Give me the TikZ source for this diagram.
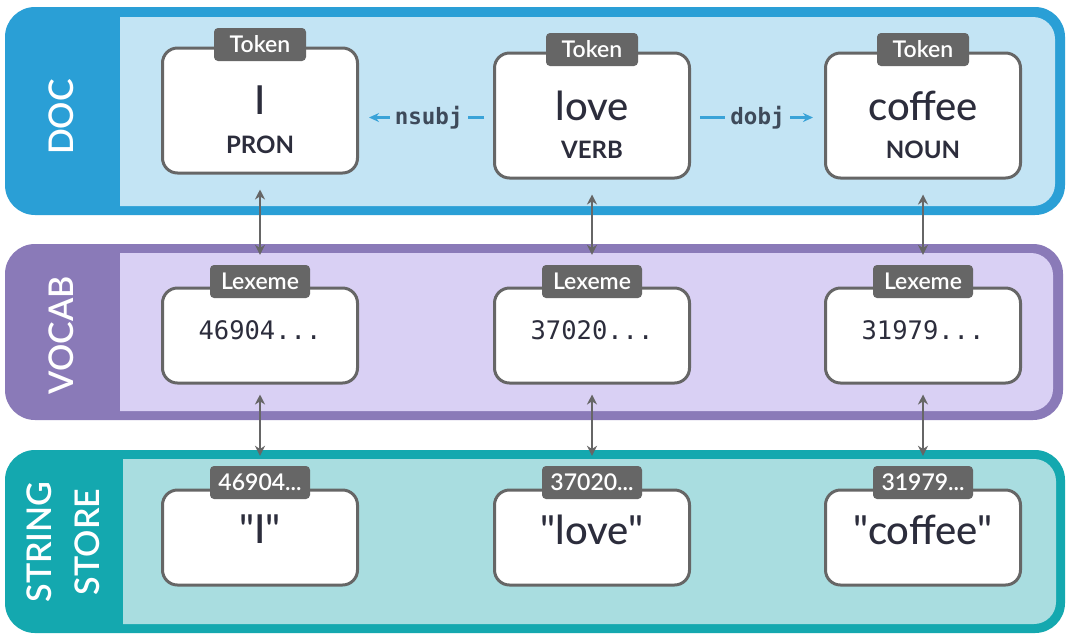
\documentclass[tikz,border=0pt]{standalone}
\usepackage{fontspec}
\setmainfont{Lato}
\IfFontExistsTF{Lato Semibold}{\newfontfamily\semib{Lato Semibold}}{\newfontfamily\semib{Lato}[FakeBold=1.5]}
\IfFontExistsTF{Lato Medium}{\newfontfamily\medf{Lato Medium}}{\newfontfamily\medf{Lato}[FakeBold=0.8]}
\newfontfamily\monof{DejaVu Sans Mono}
\usetikzlibrary{arrows.meta}
\definecolor{docband}{HTML}{2A9FD6}
\definecolor{docpanel}{HTML}{C3E4F4}
\definecolor{vocband}{HTML}{8A7AB8}
\definecolor{vocpanel}{HTML}{D9D0F4}
\definecolor{strband}{HTML}{14A8AF}
\definecolor{strpanel}{HTML}{A9DDE0}
\definecolor{boxgray}{HTML}{666666}
\definecolor{ink}{HTML}{2C2D3C}
\definecolor{relblue}{HTML}{3AA3D8}
\definecolor{relink}{HTML}{3E4A5A}
\newcommand\tdots{...}
\newcommand\sq{\char34\relax}
\tikzset{
  itembox/.style={draw=boxgray, line width=3pt, fill=white, rounded corners=15pt,
    minimum width=195pt, inner sep=0pt},
  tokbox/.style={itembox, minimum height=125pt},
  lexbox/.style={itembox, minimum height=95pt},
  tag/.style={fill=boxgray, text=white, rounded corners=4pt, inner sep=0pt,
    minimum height=33pt, font=\semib\fontsize{23}{25}\selectfont},
  bandtext/.style={rotate=90, text=white, font=\semib\fontsize{34}{48}\selectfont, align=center},
  bigword/.style={text=ink, font=\medf\fontsize{40}{44}\selectfont},
  posword/.style={text=ink, font=\bfseries\fontsize{24}{26}\selectfont},
  numword/.style={text=ink, font=\monof\fontsize{25.5}{27}\selectfont},
  strword/.style={text=ink, font=\medf\fontsize{40}{44}\selectfont},
  link/.style={draw=boxgray, line width=2.5pt, {Stealth[length=10pt,width=10pt]}-{Stealth[length=10pt,width=10pt]}},
  rel/.style={draw=relblue, line width=2.2pt, -{Stealth[length=10pt,width=9pt]}},
  rellabel/.style={text=relink, inner xsep=5pt, inner ysep=3pt, font=\monof\bfseries\fontsize{22.5}{24}\selectfont}
}
\begin{document}
\begin{tikzpicture}[x=1pt,y=-1pt]
\useasboundingbox (0,0) rectangle (1078,641);
\fill[white] (0,0) rectangle (1078,641);
% bands
\fill[docband, rounded corners=30pt] (5,7) rectangle (1065,215);
\begin{scope}\clip (120,0) rectangle (1078,641);
\fill[docpanel, rounded corners=22pt] (90,17) rectangle (1055,206);
\end{scope}
\fill[vocband, rounded corners=30pt] (5,244) rectangle (1063,420);
\begin{scope}\clip (120,0) rectangle (1078,641);
\fill[vocpanel, rounded corners=22pt] (90,253) rectangle (1053,411);
\end{scope}
\fill[strband, rounded corners=30pt] (5,450) rectangle (1065,633);
\begin{scope}\clip (123,0) rectangle (1078,641);
\fill[strpanel, rounded corners=22pt] (90,459) rectangle (1056,624);
\end{scope}
\node[bandtext] (ldoc) at (61,117) {DOC};
\node[bandtext] (lvoc) at (61,335) {VOCAB};
\node[bandtext] (lstr) at (63,542) {STRING\\STORE};
% token boxes
\node[tokbox] (t1) at (260,110.5) {};
\node[tokbox] (t2) at (592,115.5) {};
\node[tokbox] (t3) at (923,115.5) {};
\foreach \n/\w/\p in {t1/I/PRON, t2/love/VERB, t3/coffee/NOUN}{
  \node[tag, minimum width=92pt] (\n tag) at ([yshift=2pt]\n.north) {Token};
  \node[bigword] (\n word) at ([yshift=-54pt]\n.north) {\w};
  \node[posword] (\n pos) at ([yshift=-98pt]\n.north) {\p};
}
% lexeme boxes
\node[lexbox] (x1) at (260,335.5) {};
\node[lexbox] (x2) at (592,335.5) {};
\node[lexbox] (x3) at (923,335.5) {};
\foreach \n in {x1,x2,x3}{
  \node[tag, minimum width=100pt] (\n tag) at ([yshift=5pt]\n.north) {Lexeme};
}
\node[numword] (x1num) at ([yshift=5pt]x1.center) {46904\tdots};
\node[numword] (x2num) at ([yshift=5pt]x2.center) {37020\tdots};
\node[numword] (x3num) at ([yshift=5pt]x3.center) {31979\tdots};
% string boxes
\node[lexbox] (s1) at (260,537.5) {};
\node[lexbox] (s2) at (592,537.5) {};
\node[lexbox] (s3) at (923,537.5) {};
\node[tag, minimum width=100pt] (s1tag) at ([yshift=6pt]s1.north) {46904\tdots};
\node[tag, minimum width=100pt] (s2tag) at ([yshift=6pt]s2.north) {37020\tdots};
\node[tag, minimum width=100pt] (s3tag) at ([yshift=6pt]s3.north) {31979\tdots};
\node[strword] (s1word) at ([yshift=8pt]s1.center) {\sq I\sq};
\node[strword] (s2word) at ([yshift=8pt]s2.center) {\sq love\sq};
\node[strword] (s3word) at ([yshift=8pt]s3.center) {\sq coffee\sq};
% vertical links
\foreach \i in {1,2,3}{
  \draw[link, shorten <=15pt, shorten >=10pt] (t\i.south) -- (x\i tag.north);
  \draw[link, shorten <=10pt, shorten >=10pt] (x\i.south) -- (s\i tag.north);
}
% dependency relations
\coordinate (a1) at ([yshift=-2pt]t2.west -| t1.east);
\coordinate (b2) at ([yshift=-2pt]t2.west);
\coordinate (c2) at ([yshift=-2pt]t2.east);
\coordinate (c3) at ([yshift=-2pt]t3.west);
\draw[rel, shorten <=9pt, shorten >=10pt] (b2) -- (a1)
  node[pos=0.48, fill=docpanel, rellabel] (nsubj) {nsubj};
\draw[rel, shorten <=9pt, shorten >=11pt] (c2) -- (c3)
  node[midway, fill=docpanel, rellabel] (dobj) {dobj};
\end{tikzpicture}
\end{document}
